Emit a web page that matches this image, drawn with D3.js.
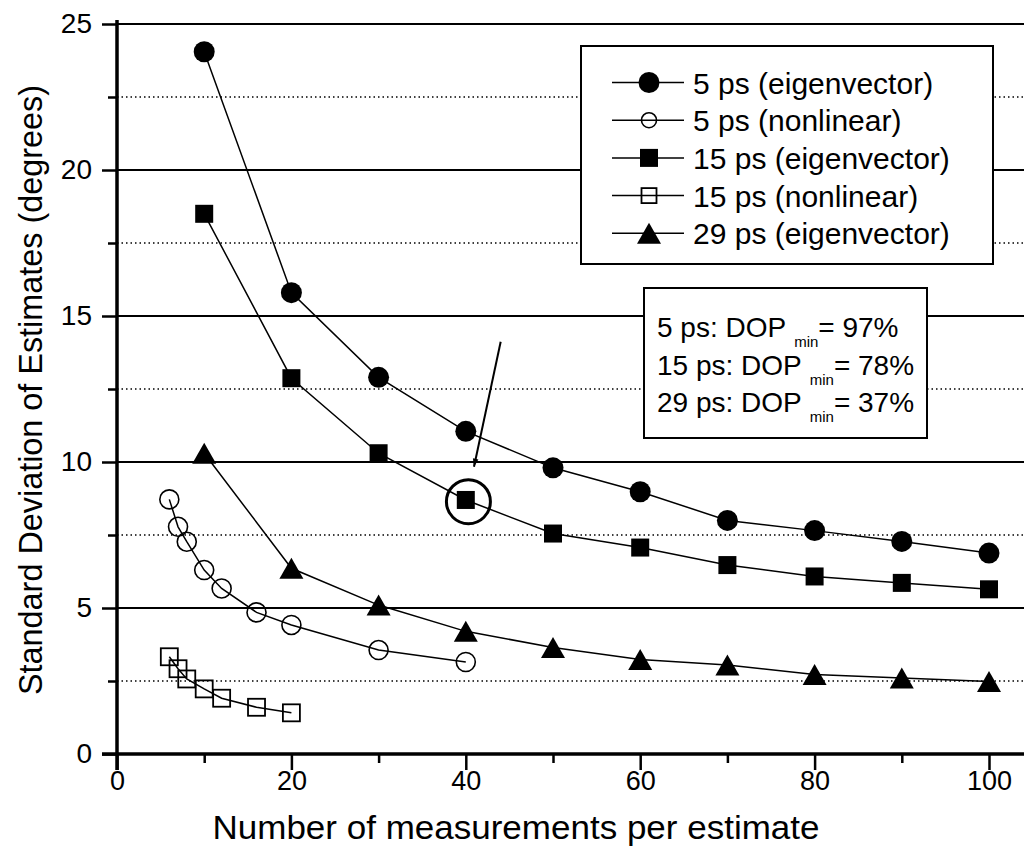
<!DOCTYPE html>
<html><head><meta charset="utf-8">
<script src="https://cdn.jsdelivr.net/npm/d3@7"></script>
<style>
html,body{margin:0;padding:0;background:#fff;}
svg{display:block;font-family:"Liberation Sans",Arial,Helvetica,sans-serif;}
</style></head>
<body>
<script>
// ---- data ----
const xEig = [10,20,30,40,50,60,70,80,90,100];
const ps5Eig  = [24.05,15.8,12.9,11.05,9.8,8.98,8.0,7.65,7.28,6.88];
const ps15Eig = [18.5,12.87,10.3,8.7,7.55,7.07,6.47,6.08,5.86,5.64];
const ps29Eig = [10.3,6.36,5.1,4.2,3.65,3.24,3.05,2.72,2.6,2.48];
const xNl5  = [6,7,8,10,12,16,20,30,40];
const ps5Nl = [8.72,7.78,7.27,6.30,5.67,4.85,4.42,3.56,3.15];
const xNl15  = [6,7,8,10,12,16,20];
const ps15Nl = [3.33,2.92,2.57,2.23,1.91,1.60,1.41];
const xMajorTicks = [0,20,40,60,80,100];
const xMinorTicks = [10,30,50,70,90];
const yMajorTicks = [0,5,10,15,20,25];
const yMinorTicks = [2.5,7.5,12.5,17.5,22.5];
const legendLabels = ["5 ps (eigenvector)","5 ps (nonlinear)","15 ps (eigenvector)","15 ps (nonlinear)","29 ps (eigenvector)"];
const dopLines = [["5 ps: DOP","= 97%"],["15 ps: DOP","= 78%"],["29 ps: DOP","= 37%"]];
const xTitle = "Number of measurements per estimate";
const yTitle = "Standard Deviation of Estimates (degrees)";
const highlight = {x:40.3, y:8.64};
const arrowFrom = {x:44.0, y:14.12}, arrowTo = {x:40.94, y:9.84};

const W = 1024, H = 863;
const svg = d3.select("body").append("svg").attr("width",W).attr("height",H);
const x = d3.scaleLinear().domain([0,100]).range([117,989]);
const y = d3.scaleLinear().domain([0,25]).range([754,24]);

// grid
svg.append("g").selectAll("line").data(yMajorTicks.filter(d=>d>0)).join("line")
  .attr("x1",x(0)).attr("x2",W).attr("y1",d=>y(d)).attr("y2",d=>y(d))
  .attr("stroke","#000").attr("stroke-width",2);
svg.append("g").selectAll("line").data(yMinorTicks).join("line")
  .attr("x1",x(0)).attr("x2",W).attr("y1",d=>y(d)).attr("y2",d=>y(d))
  .attr("stroke","#000").attr("stroke-width",1.5).attr("stroke-dasharray","1.5,3");

// axes
const fontTick = 27;
const gx = svg.append("g").attr("transform",`translate(0,${y(0)})`)
  .call(d3.axisBottom(x).tickValues(xMajorTicks).tickSize(16).tickPadding(1).tickFormat(d3.format("d")));
gx.select(".domain").remove();
gx.selectAll(".tick line").attr("stroke-width",2.5);
gx.selectAll("text").attr("font-size",fontTick).attr("font-family","Liberation Sans, Arial, sans-serif").attr("fill","#000");
const gxm = svg.append("g").attr("transform",`translate(0,${y(0)})`)
  .call(d3.axisBottom(x).tickValues(xMinorTicks).tickSize(9).tickFormat(""));
gxm.select(".domain").remove();
gxm.selectAll(".tick line").attr("stroke-width",2.5);

const gy = svg.append("g").attr("transform",`translate(${x(0)},0)`)
  .call(d3.axisLeft(y).tickValues(yMajorTicks).tickSize(15).tickPadding(10).tickFormat(d3.format("d")));
gy.select(".domain").remove();
gy.selectAll(".tick line").attr("stroke-width",2.5);
gy.selectAll("text").attr("font-size",fontTick+1).attr("font-family","Liberation Sans, Arial, sans-serif").attr("fill","#000");
const gym = svg.append("g").attr("transform",`translate(${x(0)},0)`)
  .call(d3.axisLeft(y).tickValues(yMinorTicks).tickSize(9).tickFormat(""));
gym.select(".domain").remove();
gym.selectAll(".tick line").attr("stroke-width",2.5);

svg.append("line").attr("x1",x(0)-15).attr("x2",W).attr("y1",y(0)).attr("y2",y(0))
  .attr("stroke","#000").attr("stroke-width",3.5);
svg.append("line").attr("x1",x(0)).attr("x2",x(0)).attr("y1",y(0)+16).attr("y2",y(25)-4)
  .attr("stroke","#000").attr("stroke-width",3.5);

// titles
svg.append("text").attr("x",516).attr("y",839).attr("text-anchor","middle")
  .attr("font-size",34).attr("textLength",607).attr("lengthAdjust","spacingAndGlyphs").text(xTitle);
svg.append("text").attr("transform",`translate(42,390) rotate(-90)`).attr("text-anchor","middle")
  .attr("font-size",33).attr("textLength",610).attr("lengthAdjust","spacingAndGlyphs").text(yTitle);

// series
const series = [
  {xs:xEig, ys:ps5Eig, type:"circle", fill:true},
  {xs:xNl5, ys:ps5Nl, type:"circle", fill:false},
  {xs:xEig, ys:ps15Eig, type:"square", fill:true},
  {xs:xNl15, ys:ps15Nl, type:"square", fill:false},
  {xs:xEig, ys:ps29Eig, type:"triangle", fill:true}
];
const line = d3.line().x(d=>x(d[0])).y(d=>y(d[1]));
function drawMarker(g, type, fill, cx, cy, legend){
  if(type==="circle"){
    const r = fill ? (legend?10.5:10.5) : (legend?7.5:9.5);
    g.append("circle").attr("cx",cx).attr("cy",cy).attr("r",r)
      .attr("fill",fill?"#000":"none").attr("stroke","#000").attr("stroke-width",fill?0:1.6);
  } else if(type==="square"){
    const s = fill ? (legend?18:18) : (legend?15:17);
    g.append("rect").attr("x",cx-s/2).attr("y",cy-s/2).attr("width",s).attr("height",s)
      .attr("fill",fill?"#000":"none").attr("stroke","#000").attr("stroke-width",fill?0:1.8);
  } else {
    const w = 24, h = 21;
    g.append("path").attr("d",`M${cx},${cy-h/2}L${cx+w/2},${cy+h/2}L${cx-w/2},${cy+h/2}Z`).attr("fill","#000");
  }
}
series.forEach(s=>{
  const pts = s.xs.map((v,i)=>[v,s.ys[i]]);
  svg.append("path").datum(pts).attr("d",line).attr("fill","none").attr("stroke","#000").attr("stroke-width",1.5);
});
series.forEach(s=>{
  const g = svg.append("g");
  s.xs.forEach((v,i)=>drawMarker(g,s.type,s.fill,x(v),y(s.ys[i]),false));
});

// highlight ring and arrow
svg.append("circle").attr("cx",x(highlight.x)).attr("cy",y(highlight.y)).attr("r",22)
  .attr("fill","none").attr("stroke","#000").attr("stroke-width",3);
svg.append("defs").append("marker").attr("id","ah").attr("viewBox","0 0 10 10")
  .attr("refX",10).attr("refY",5).attr("markerWidth",12).attr("markerHeight",8).attr("markerUnits","userSpaceOnUse")
  .attr("orient","auto").append("path").attr("d","M0,1.5L10,5L0,8.5Z").attr("fill","#000");
svg.append("line").attr("x1",x(arrowFrom.x)).attr("y1",y(arrowFrom.y)).attr("x2",x(arrowTo.x)).attr("y2",y(arrowTo.y))
  .attr("stroke","#000").attr("stroke-width",2).attr("marker-end","url(#ah)");

// legend
const lg = svg.append("g");
lg.append("rect").attr("x",581).attr("y",46).attr("width",412).attr("height",218)
  .attr("fill","#fff").attr("stroke","#000").attr("stroke-width",2);
legendLabels.forEach((lab,i)=>{
  const cy = 82.5 + i*37.7;
  lg.append("line").attr("x1",612).attr("x2",684).attr("y1",cy).attr("y2",cy).attr("stroke","#000").attr("stroke-width",1.5);
  drawMarker(lg, series[i].type, series[i].fill, 649, cy, true);
  lg.append("text").attr("x",693).attr("y",cy+11).attr("font-size",30).text(lab);
});

// DOP annotation box
const ab = svg.append("g");
ab.append("rect").attr("x",644).attr("y",288).attr("width",283).attr("height",150)
  .attr("fill","#fff").attr("stroke","#000").attr("stroke-width",2);
dopLines.forEach((l,i)=>{
  const t = ab.append("text").attr("x",657).attr("y",337+i*37.5).attr("font-size",28);
  t.append("tspan").text(l[0]);
  t.append("tspan").attr("dx",8).attr("dy",10).attr("font-size",15).text("min");
  t.append("tspan").attr("dy",-10).text(l[1]);
});
</script>
</body></html>
